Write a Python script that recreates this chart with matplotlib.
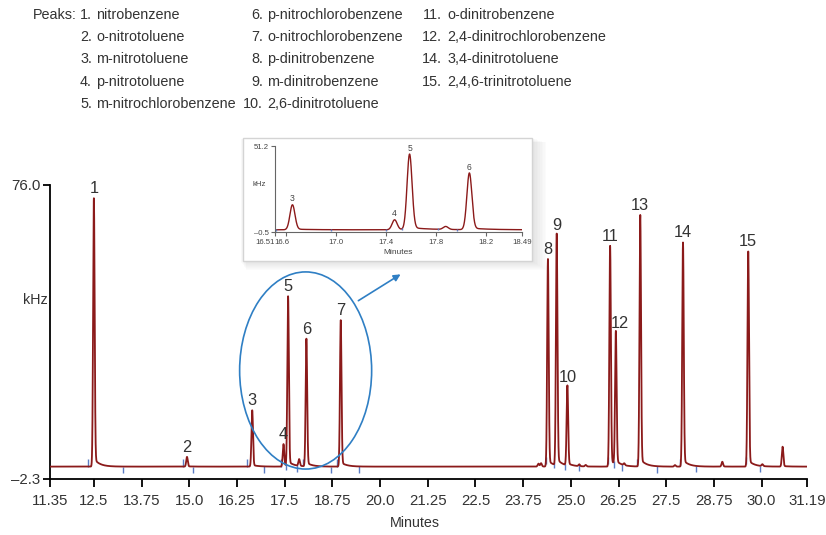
# cromatograma_nitroaromaticos.py
import matplotlib
matplotlib.use('Agg')
import matplotlib.pyplot as plt
import matplotlib.transforms as mtransforms
from matplotlib.patches import Ellipse, Rectangle
import numpy as np

# ===========================
# DADOS
# ===========================
pico_ids = ['1', '2', '3', '4', '5', '6', '7', '8', '9', '10', '11', '12', '13', '14', '15']
pico_tr = [12.50, 14.94, 16.65, 17.47, 17.59, 18.07, 18.97, 24.40, 24.63, 24.91,
           26.03, 26.18, 26.82, 27.94, 29.65]
pico_alt = [71.5, 2.6, 15.0, 6.0, 45.3, 34.0, 39.0, 55.3, 61.7, 21.3,
            58.8, 35.5, 67.0, 59.7, 57.3]

# picos pequenos sem rótulo
menor_tr = [17.88, 24.15, 24.22, 25.22, 25.39, 26.40, 27.73, 28.97, 30.02, 30.55]
menor_alt = [1.8, 0.8, 0.9, 0.5, 0.4, 0.5, 0.4, 1.3, 0.5, 5.3]

linha_base = 1.0

# marcas de integração (início / fim)
marca_inicio = [12.35, 14.84, 16.52, 17.40, 17.97, 18.86, 24.34, 25.97, 26.74, 27.87, 29.59]
marca_fim = [13.26, 15.09, 16.96, 17.53, 17.82, 18.71, 19.45, 24.57, 24.85, 25.21,
             26.12, 26.34, 27.27, 28.29, 29.97]

legenda_num = ['1.', '2.', '3.', '4.', '5.', '6.', '7.', '8.', '9.', '10.',
               '11.', '12.', '14.', '15.']
legenda_nome = ['nitrobenzene', 'o-nitrotoluene', 'm-nitrotoluene', 'p-nitrotoluene',
                'm-nitrochlorobenzene', 'p-nitrochlorobenzene', 'o-nitrochlorobenzene',
                'p-dinitrobenzene', 'm-dinitrobenzene', '2,6-dinitrotoluene',
                'o-dinitrobenzene', '2,4-dinitrochlorobenzene', '3,4-dinitrotoluene',
                '2,4,6-trinitrotoluene']

x_ticks = [11.35, 12.5, 13.75, 15.0, 16.25, 17.5, 18.75, 20.0, 21.25, 22.5, 23.75,
           25.0, 26.25, 27.5, 28.75, 30.0, 31.19]
x_ticklabels = ['11.35', '12.5', '13.75', '15.0', '16.25', '17.5', '18.75', '20.0',
                '21.25', '22.5', '23.75', '25.0', '26.25', '27.5', '28.75', '30.0', '31.19']
ins_ticks = [16.51, 16.6, 17.0, 17.4, 17.8, 18.2, 18.49]
ins_ticklabels = ['16.51', '16.6', '17.0', '17.4', '17.8', '18.2', '18.49']

COR_LINHA = '#8b1a1a'
COR_AZUL = '#2f7fc4'
COR_MARCA = '#5b7cc4'
COR_TEXTO = '#333333'
COR_INSET = '#444444'

plt.rcParams['font.family'] = ['Liberation Sans', 'DejaVu Sans']

TAM = 10.8       # rótulos dos ticks
TAM_EIXO = 10.3  # kHz / Minutes
TAM_PICO = 11.8  # números dos picos
TAM_LEG = 10.4   # legenda dos picos
TAM_INS = 5.6    # textos do inset


def pico(t, tr, h, sig=0.02, cauda=0.03, tau=0.15):
    g = np.exp(-0.5 * ((t - tr) / sig) ** 2)
    d = np.clip(t - tr, 0, None)
    rabo = np.exp(-d / tau) * (1 - np.exp(-0.5 * (d / sig) ** 2))
    return h * (g + cauda * rabo)


def sinal(t):
    y = np.full_like(t, linha_base)
    for tr, h in zip(pico_tr + menor_tr, pico_alt + menor_alt):
        y += pico(t, tr, h)
    return y


W, H = 826, 535


def fx(px):
    return px / W


def fy(py):
    return 1 - py / H


fig = plt.figure(figsize=(W / 100, H / 100), dpi=100)

# ===========================
# EIXO PRINCIPAL
# ===========================
ax = fig.add_axes([fx(50), fy(479), 757 / W, 294 / H])
t = np.linspace(11.35, 31.19, 16000)
y = sinal(t)
ax.plot(t, y, color=COR_LINHA, lw=1.3, zorder=3)

ax.vlines(marca_inicio, np.interp(marca_inicio, t, y), np.interp(marca_inicio, t, y) + 1.9,
          color=COR_MARCA, lw=1.0, zorder=2)
ax.vlines(marca_fim, np.interp(marca_fim, t, y) - 1.7, np.interp(marca_fim, t, y),
          color=COR_MARCA, lw=1.0, zorder=2)

ax.set_xlim(11.35, 31.19)
ax.set_ylim(-2.3, 76.0)
ax.set_xticks(x_ticks)
ax.set_xticklabels(x_ticklabels, fontsize=TAM, color=COR_TEXTO)
ax.set_yticks([-2.3, 76.0])
ax.set_yticklabels(['\u20132.3', '76.0'], fontsize=TAM, color=COR_TEXTO)
ax.tick_params(axis='x', length=6, width=1.3, pad=5)
ax.tick_params(axis='y', length=5, width=1.3, pad=2)
for s in ['top', 'right']:
    ax.spines[s].set_visible(False)
for s in ['left', 'bottom']:
    ax.spines[s].set_linewidth(1.3)
ax.patch.set_alpha(0)

ax.text(-0.003, 0.609, 'kHz', transform=ax.transAxes, ha='right', va='center',
        fontsize=TAM_EIXO, color=COR_TEXTO)
fig.text(fx(415), fy(523), 'Minutes', ha='center', va='center', fontsize=TAM_EIXO,
         color=COR_TEXTO)

for lab, tr, h in zip(pico_ids, pico_tr, pico_alt):
    dx = 3 if lab == '12' else 0
    ax.annotate(lab, (tr, linha_base + h), xytext=(dx, 1.5), textcoords='offset points',
                ha='center', va='bottom', fontsize=TAM_PICO, color=COR_TEXTO)

# elipse e seta
ax.add_patch(Ellipse((18.05, 26.6), 3.46, 52.5, fill=False, edgecolor=COR_AZUL,
                     lw=1.2, clip_on=False, zorder=4))
ax.annotate('', xy=(20.60, 52.6), xytext=(19.37, 44.8),
            arrowprops=dict(arrowstyle='-|>', color=COR_AZUL, lw=1.2, mutation_scale=10),
            annotation_clip=False, zorder=4)

# ===========================
# INSET
# ===========================
bx0, by0, bx1, by1 = 243, 138, 532, 261
for k in range(1, 10):
    fig.patches.append(Rectangle((fx(bx0 - 3 + k * 0.7), fy(by1 + k * 1.0)),
                                 (bx1 - bx0 + 3 + k * 0.9) / W, (by1 - by0 + k * 0.5) / H,
                                 transform=fig.transFigure, facecolor='#a8a8a8',
                                 edgecolor='none', alpha=0.035, zorder=5))
fig.patches.append(Rectangle((fx(bx0), fy(by1)), (bx1 - bx0) / W, (by1 - by0) / H,
                             transform=fig.transFigure, facecolor='white',
                             edgecolor='#d4d4d4', lw=1.0, zorder=6))

axi = fig.add_axes([fx(275), fy(232.3), 246.7 / W, 86.3 / H], zorder=7)
ti = np.linspace(16.51, 18.49, 4000)
yi = sinal(ti)
axi.plot(ti, yi, color=COR_LINHA, lw=1.0)
mi = [m for m in marca_inicio + marca_fim if 16.51 < m < 18.49]
axi.vlines(mi, np.interp(mi, ti, yi) - 0.6, np.interp(mi, ti, yi) + 0.6,
           color=COR_MARCA, lw=1.0)
axi.set_xlim(16.51, 18.49)
axi.set_ylim(-0.5, 51.2)
axi.set_xticks(ins_ticks)
axi.set_xticklabels(ins_ticklabels, fontsize=TAM_INS, color=COR_INSET)
axi.set_yticks([-0.5, 51.2])
axi.set_yticklabels(['\u20130.5', '51.2'], fontsize=TAM_INS, color=COR_INSET)
axi.tick_params(length=3, width=0.8, pad=1.5, color='#666666')
# desloca os dois primeiros rótulos para não encostarem
for lbl, dx in zip(axi.get_xticklabels()[:2], [-10, -4]):
    lbl.set_transform(lbl.get_transform() +
                      mtransforms.ScaledTranslation(dx / 100, 0, fig.dpi_scale_trans))
for s in ['top', 'right']:
    axi.spines[s].set_visible(False)
for s in ['left', 'bottom']:
    axi.spines[s].set_color('#666666')
    axi.spines[s].set_linewidth(0.8)
axi.patch.set_alpha(0)
fig.text(fx(259), fy(184), 'kHz', ha='center', va='center', fontsize=TAM_INS,
         color=COR_INSET, zorder=8)
fig.text(fx(398), fy(253), 'Minutes', ha='center', va='center', fontsize=TAM_INS + 0.4,
         color=COR_INSET, zorder=8)
for lab in ['3', '4', '5', '6']:
    i = pico_ids.index(lab)
    axi.annotate(lab, (pico_tr[i], linha_base + pico_alt[i]), xytext=(0, 1),
                 textcoords='offset points', ha='center', va='bottom',
                 fontsize=TAM_INS + 0.6, color=COR_INSET)

# ===========================
# LEGENDA DOS PICOS
# ===========================
fig.text(fx(33), fy(15), 'Peaks:', ha='left', va='center', fontsize=TAM_LEG,
         color=COR_TEXTO)
col_num = [92, 263, 442]
col_nome = [96, 267, 447]
for i, (num, nome) in enumerate(zip(legenda_num, legenda_nome)):
    c, r = i // 5, i % 5
    yy = fy(15 + r * 22.2)
    fig.text(fx(col_num[c]), yy, num, ha='right', va='center', fontsize=TAM_LEG,
             color=COR_TEXTO)
    fig.text(fx(col_nome[c]), yy, nome, ha='left', va='center', fontsize=TAM_LEG,
             color=COR_TEXTO)

fig.savefig('out.png', dpi=100)
